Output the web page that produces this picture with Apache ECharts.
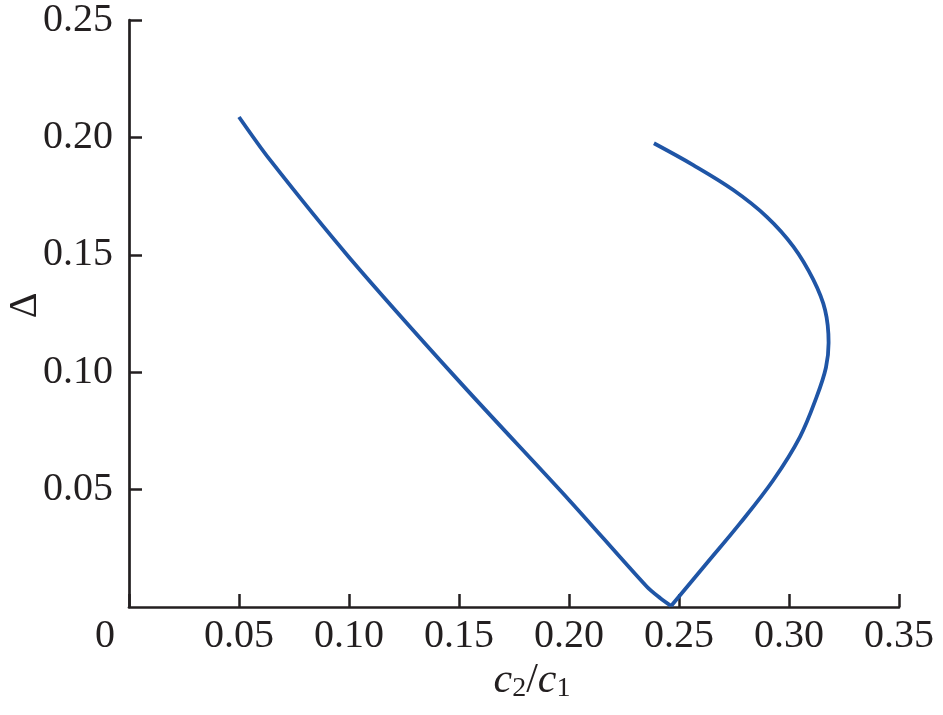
<!DOCTYPE html>
<html>
<head>
<meta charset="utf-8">
<script src="https://cdn.jsdelivr.net/npm/echarts@6/dist/echarts.min.js"></script>
<style>html,body{margin:0;padding:0;background:#fff;}#c{width:943px;height:715px;}</style>
</head>
<body>
<div id="c"></div>
<script>
const leftX = [0.05, 0.0641, 0.10, 0.15, 0.20, 0.2353, 0.2414, 0.2464];
const leftY = [0.2087, 0.1904, 0.149, 0.0962, 0.0456, 0.0087, 0.0038, 0.0004];
const rightX = [0.2464, 0.2626, 0.2777, 0.2929, 0.305, 0.3126, 0.3168, 0.3180, 0.3164, 0.3111, 0.3020, 0.2899, 0.2747, 0.2565, 0.2386];
const rightY = [0.0004, 0.0186, 0.0356, 0.0541, 0.0725, 0.0896, 0.1020, 0.1125, 0.1265, 0.1393, 0.1535, 0.1662, 0.1776, 0.1882, 0.1975];
const xTicks = [0, 0.05, 0.10, 0.15, 0.20, 0.25, 0.30, 0.35];
const yTicks = [0.05, 0.10, 0.15, 0.20, 0.25];

const font = 'Liberation Serif';
const ink = '#231f20';
const blue = '#1f55a6';
const chart = echarts.init(document.getElementById('c'));
chart.setOption({
  animation: false,
  backgroundColor: '#fff',
  grid: {left: 129, right: 44, top: 20, bottom: 108, containLabel: false, outerBoundsMode: 'none'},
  xAxis: {
    type: 'value', min: 0, max: 0.35, interval: 0.05,
    name: '{i|c}{s|2}{n|/}{i|c}{s|1}',
    nameLocation: 'middle', nameGap: 52, nameMoveOverlap: false,
    nameTextStyle: {
      padding: [0, 0, 0, 36],
      rich: {
        i: {fontFamily: font, fontStyle: 'italic', fontSize: 42, color: ink},
        n: {fontFamily: font, fontSize: 42, color: ink},
        s: {fontFamily: font, fontSize: 28, color: ink, verticalAlign: 'bottom', padding: [16, 0, 0, 0]}
      }
    },
    axisLine: {show: true, onZero: false, lineStyle: {color: ink, width: 2.7}},
    axisTick: {show: true, inside: true, length: 13, lineStyle: {color: ink, width: 2.5}},
    splitLine: {show: false},
    axisLabel: {
      fontFamily: font, fontSize: 40, color: ink, margin: 9,
      formatter: function (v) {
        if (Math.abs(v) < 1e-9) return '{z|' + xTicks[0] + '}';
        return v.toFixed(2);
      },
      rich: {z: {fontFamily: font, fontSize: 40, color: ink, padding: [0, 48, 0, 0]}}
    }
  },
  yAxis: {
    type: 'value', min: 0, max: 0.25, interval: 0.05,
    name: 'Δ', nameLocation: 'middle', nameGap: 84, nameMoveOverlap: false,
    nameTextStyle: {fontFamily: font, fontSize: 40, color: ink, padding: [0, 0, 0, 16]},
    axisLine: {show: true, onZero: false, lineStyle: {color: ink, width: 2.7}},
    axisTick: {show: true, inside: true, length: 13, lineStyle: {color: ink, width: 2.5}},
    splitLine: {show: false},
    axisLabel: {
      fontFamily: font, fontSize: 40, color: ink, margin: 16,
      showMinLabel: false,
      formatter: function (v) {
        const t = yTicks.find(function (k) { return Math.abs(k - v) < 1e-9; });
        return t === undefined ? '' : t.toFixed(2);
      }
    }
  },
  series: [
    {type: 'line', data: leftX.map(function (x, i) { return [x, leftY[i]]; }),
     showSymbol: false, smooth: 0.3, lineStyle: {color: blue, width: 3.8}},
    {type: 'line', data: rightX.map(function (x, i) { return [x, rightY[i]]; }),
     showSymbol: false, smooth: 0.35, lineStyle: {color: blue, width: 3.8}}
  ]
});
</script>
</body>
</html>
